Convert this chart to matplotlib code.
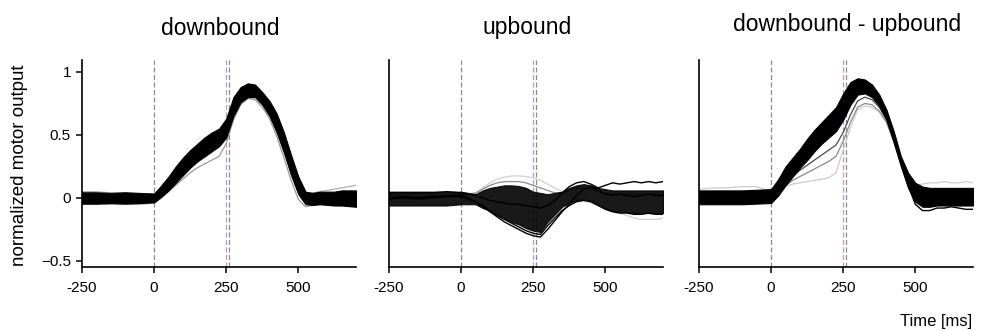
import matplotlib
matplotlib.use("Agg")
from matplotlib import pyplot as plt
import numpy as np

plt.rcParams['font.family'] = ['Liberation Sans', 'DejaVu Sans']

# time axis (ms), shared by every trace
t = [-250, -200, -150, -100, -50, 0, 25, 50, 75, 100, 125, 150, 175, 200, 225,
     250, 275, 300, 325, 350, 375, 400, 425, 450, 475, 500, 525, 550, 575,
     600, 625, 650, 675, 700]

# --- downbound: envelope of the dense bundle + a couple of single traces
down_hi = [0.045, 0.045, 0.04, 0.045, 0.04, 0.035, 0.10, 0.17, 0.25, 0.32, 0.38, 0.43,
           0.48, 0.52, 0.55, 0.63, 0.80, 0.88, 0.91, 0.90, 0.84, 0.77, 0.67, 0.52,
           0.34, 0.17, 0.05, 0.04, 0.05, 0.05, 0.05, 0.06, 0.06, 0.06]
down_lo = [-0.045, -0.045, -0.04, -0.045, -0.04, -0.035, 0.01, 0.06, 0.12, 0.18, 0.24,
           0.29, 0.33, 0.37, 0.41, 0.48, 0.65, 0.76, 0.80, 0.80, 0.74, 0.65, 0.52,
           0.36, 0.18, 0.03, -0.05, -0.055, -0.05, -0.055, -0.06, -0.06, -0.065, -0.07]
down_grey = [-0.05, -0.05, -0.05, -0.05, -0.05, -0.04, 0.0, 0.05, 0.10, 0.15, 0.20,
             0.24, 0.27, 0.30, 0.33, 0.43, 0.62, 0.74, 0.79, 0.78, 0.72, 0.63, 0.49,
             0.32, 0.14, -0.01, -0.07, -0.06, -0.05, -0.04, -0.02, 0.0, 0.01, 0.02]
down_grey2 = [0.05, 0.05, 0.04, 0.04, 0.03, 0.03, 0.08, 0.15, 0.22, 0.29, 0.35, 0.40,
              0.44, 0.47, 0.50, 0.58, 0.75, 0.85, 0.88, 0.87, 0.81, 0.73, 0.62, 0.46,
              0.28, 0.12, 0.03, 0.04, 0.05, 0.06, 0.07, 0.08, 0.09, 0.10]

# --- upbound
up_hi = [0.05, 0.05, 0.05, 0.05, 0.05, 0.05, 0.04, 0.03, 0.06, 0.08, 0.09, 0.10,
         0.10, 0.095, 0.08, 0.05, 0.04, 0.03, 0.04, 0.05, 0.08, 0.10, 0.11, 0.10,
         0.08, 0.07, 0.06, 0.06, 0.06, 0.06, 0.06, 0.06, 0.06, 0.06]
up_lo = [-0.06, -0.06, -0.06, -0.06, -0.06, -0.05, -0.05, -0.05, -0.08, -0.10, -0.13,
         -0.16, -0.19, -0.21, -0.24, -0.26, -0.27, -0.19, -0.13, -0.07, -0.04, -0.02,
         -0.01, -0.02, -0.05, -0.08, -0.10, -0.11, -0.11, -0.12, -0.12, -0.12, -0.12, -0.12]
up_min = [0.0, 0.01, 0.0, 0.01, 0.02, 0.02, 0.0, -0.03, -0.07, -0.11, -0.15, -0.19,
          -0.22, -0.25, -0.28, -0.30, -0.31, -0.25, -0.18, -0.11, -0.05, 0.02, 0.07,
          0.09, 0.06, 0.03, 0.02, 0.03, 0.02, 0.01, 0.02, 0.03, 0.02, 0.02]
up_min2 = [-0.01, 0.0, -0.01, 0.0, 0.01, 0.01, -0.01, -0.03, -0.06, -0.10, -0.14, -0.17,
           -0.20, -0.23, -0.26, -0.28, -0.29, -0.22, -0.16, -0.10, -0.06, -0.03, -0.02,
           -0.03, -0.06, -0.09, -0.11, -0.12, -0.12, -0.13, -0.13, -0.12, -0.13, -0.13]
up_grey_top = [-0.03, -0.03, -0.04, -0.05, -0.05, -0.04, -0.01, 0.03, 0.08, 0.12, 0.15,
               0.165, 0.175, 0.175, 0.17, 0.16, 0.14, 0.11, 0.08, 0.05, 0.02, 0.0, -0.02,
               -0.04, -0.06, -0.08, -0.10, -0.12, -0.14, -0.16, -0.17, -0.17, -0.17, -0.16]
up_grey_mid = [0.02, 0.02, 0.01, 0.02, 0.02, 0.03, 0.03, 0.04, 0.07, 0.10, 0.12, 0.13,
               0.13, 0.13, 0.12, 0.10, 0.08, 0.06, 0.04, 0.04, 0.06, 0.08, 0.08, 0.07,
               0.05, 0.04, 0.03, 0.03, 0.03, 0.03, 0.03, 0.03, 0.03, 0.03]
up_black_hi = [0.04, 0.04, 0.04, 0.04, 0.05, 0.04, 0.03, 0.02, 0.0, -0.02, -0.03, -0.04,
               -0.05, -0.05, -0.06, -0.07, -0.08, -0.06, -0.02, 0.04, 0.09, 0.12, 0.13,
               0.11, 0.08, 0.10, 0.12, 0.11, 0.12, 0.13, 0.12, 0.13, 0.12, 0.13]

# --- downbound - upbound
diff_hi = [0.06, 0.06, 0.06, 0.06, 0.065, 0.07, 0.15, 0.25, 0.32, 0.39, 0.47, 0.54,
           0.60, 0.66, 0.72, 0.83, 0.92, 0.95, 0.94, 0.90, 0.82, 0.70, 0.53, 0.33,
           0.20, 0.12, 0.09, 0.08, 0.08, 0.08, 0.08, 0.08, 0.08, 0.08]
diff_lo = [-0.05, -0.05, -0.05, -0.05, -0.045, -0.04, 0.02, 0.10, 0.17, 0.24, 0.30, 0.37,
           0.43, 0.48, 0.53, 0.62, 0.74, 0.82, 0.83, 0.80, 0.73, 0.62, 0.44, 0.25,
           0.08, -0.03, -0.07, -0.07, -0.06, -0.06, -0.06, -0.06, -0.06, -0.06]
diff_g1 = [0.0, 0.0, 0.0, 0.0, 0.0, 0.0, 0.05, 0.12, 0.17, 0.22, 0.26, 0.30, 0.34, 0.38,
           0.42, 0.52, 0.66, 0.77, 0.80, 0.78, 0.72, 0.62, 0.46, 0.28, 0.12, 0.02, 0.0,
           0.0, 0.0, 0.0, 0.0, 0.0, 0.0, 0.0]
diff_g2 = [0.02, 0.02, 0.02, 0.02, 0.03, 0.03, 0.06, 0.10, 0.14, 0.17, 0.20, 0.23, 0.26,
           0.29, 0.33, 0.45, 0.60, 0.72, 0.75, 0.74, 0.69, 0.60, 0.45, 0.28, 0.13, 0.04,
           0.02, 0.03, 0.03, 0.03, 0.03, 0.03, 0.03, 0.03]
diff_g3 = [0.07, 0.08, 0.08, 0.09, 0.09, 0.05, 0.07, 0.09, 0.11, 0.12, 0.13, 0.14, 0.15,
           0.16, 0.20, 0.38, 0.56, 0.70, 0.73, 0.72, 0.68, 0.60, 0.46, 0.30, 0.17, 0.10,
           0.11, 0.12, 0.12, 0.13, 0.12, 0.12, 0.13, 0.12]
diff_out = [-0.03, -0.04, -0.03, -0.04, -0.03, -0.03, 0.03, 0.11, 0.19, 0.26, 0.33, 0.40,
            0.46, 0.52, 0.58, 0.70, 0.82, 0.89, 0.90, 0.86, 0.78, 0.66, 0.48, 0.28, 0.10,
            -0.05, -0.10, -0.10, -0.08, -0.08, -0.07, -0.08, -0.09, -0.09]

xticks = [-250, 0, 250, 500]
xticklabels = ['-250', '0', '250', '500']
yticks = [-0.5, 0, 0.5, 1]
yticklabels = ['\u22120.5', '0', '0.5', '1']
titles = ['downbound', 'upbound', 'downbound - upbound']
go_lines = [0, 248, 258]

W, H = 984, 331
fig = plt.figure(figsize=(W / 100, H / 100), dpi=100)
lefts = [82, 389, 699]
axes = [fig.add_axes([l / W, 64 / H, 274 / W, 207 / H]) for l in lefts]

for ax in axes:
    ax.axvline(go_lines[0], color='#8a8a8a', ls=(0, (4, 2)), lw=0.9, zorder=0)
    ax.axvline(go_lines[1], color='#c090d0', ls=(0, (4, 2)), lw=0.9, zorder=0)
    ax.axvline(go_lines[2], color='#8a8a8a', ls=(0, (4, 2)), lw=0.9, zorder=0)

# downbound
ax = axes[0]
ax.plot(t, down_grey, color='#9a9a9a', lw=0.9, zorder=1)
ax.plot(t, down_grey2, color='#b0b0b0', lw=0.9, zorder=1)
ax.fill_between(t, down_lo, down_hi, color='black', lw=0.8, edgecolor='black', zorder=2)

# upbound
ax = axes[1]
ax.plot(t, up_grey_top, color='#d0d0d0', lw=0.9, zorder=1)
ax.plot(t, up_grey_mid, color='#8c8c8c', lw=0.9, zorder=1)
ax.fill_between(t, up_lo, up_hi, color='black', alpha=0.9, lw=0.8, edgecolor='black', zorder=2)
ax.plot(t, up_black_hi, color='black', lw=1.0, zorder=3)
ax.plot(t, up_min2, color='black', lw=1.0, zorder=3)
ax.plot(t, up_min, color='black', lw=1.0, zorder=3)

# difference
ax = axes[2]
ax.plot(t, diff_g3, color='#cccccc', lw=0.9, zorder=1)
ax.plot(t, diff_g2, color='#8c8c8c', lw=0.9, zorder=1)
ax.plot(t, diff_g1, color='#4a4a4a', lw=0.9, zorder=1)
ax.fill_between(t, diff_lo, diff_hi, color='black', lw=0.8, edgecolor='black', zorder=2)
ax.plot(t, diff_out, color='black', lw=1.0, zorder=3)

for i, ax in enumerate(axes):
    ax.set_xlim(-250, 700)
    ax.set_ylim(-0.548, 1.095)
    for s in ['top', 'right']:
        ax.spines[s].set_visible(False)
    for s in ['left', 'bottom']:
        ax.spines[s].set_linewidth(1.2)
    ax.set_xticks(xticks)
    ax.set_xticklabels(xticklabels, fontsize=11)
    ax.tick_params(axis='x', direction='out', length=4, width=1.1, pad=6)
    if i == 0:
        ax.set_yticks(yticks)
        ax.set_yticklabels(yticklabels, fontsize=11)
        ax.tick_params(axis='y', direction='out', length=4, width=1.1, pad=4)
    else:
        ax.set_yticks([])

fig.text(220 / W, 1 - 35 / H, titles[0], fontsize=16.5, ha='center', va='baseline')
fig.text(527 / W, 1 - 34 / H, titles[1], fontsize=16.5, ha='center', va='baseline')
fig.text(847 / W, 1 - 31.5 / H, titles[2], fontsize=16.5, ha='center', va='baseline')
fig.text(20 / W, 1 - 165 / H, 'normalized motor output', fontsize=13.5,
         rotation=90, ha='center', va='center')
fig.text(972 / W, 1 - 326 / H, 'Time [ms]', fontsize=12, ha='right', va='baseline')

fig.savefig('out.png', dpi=100)
